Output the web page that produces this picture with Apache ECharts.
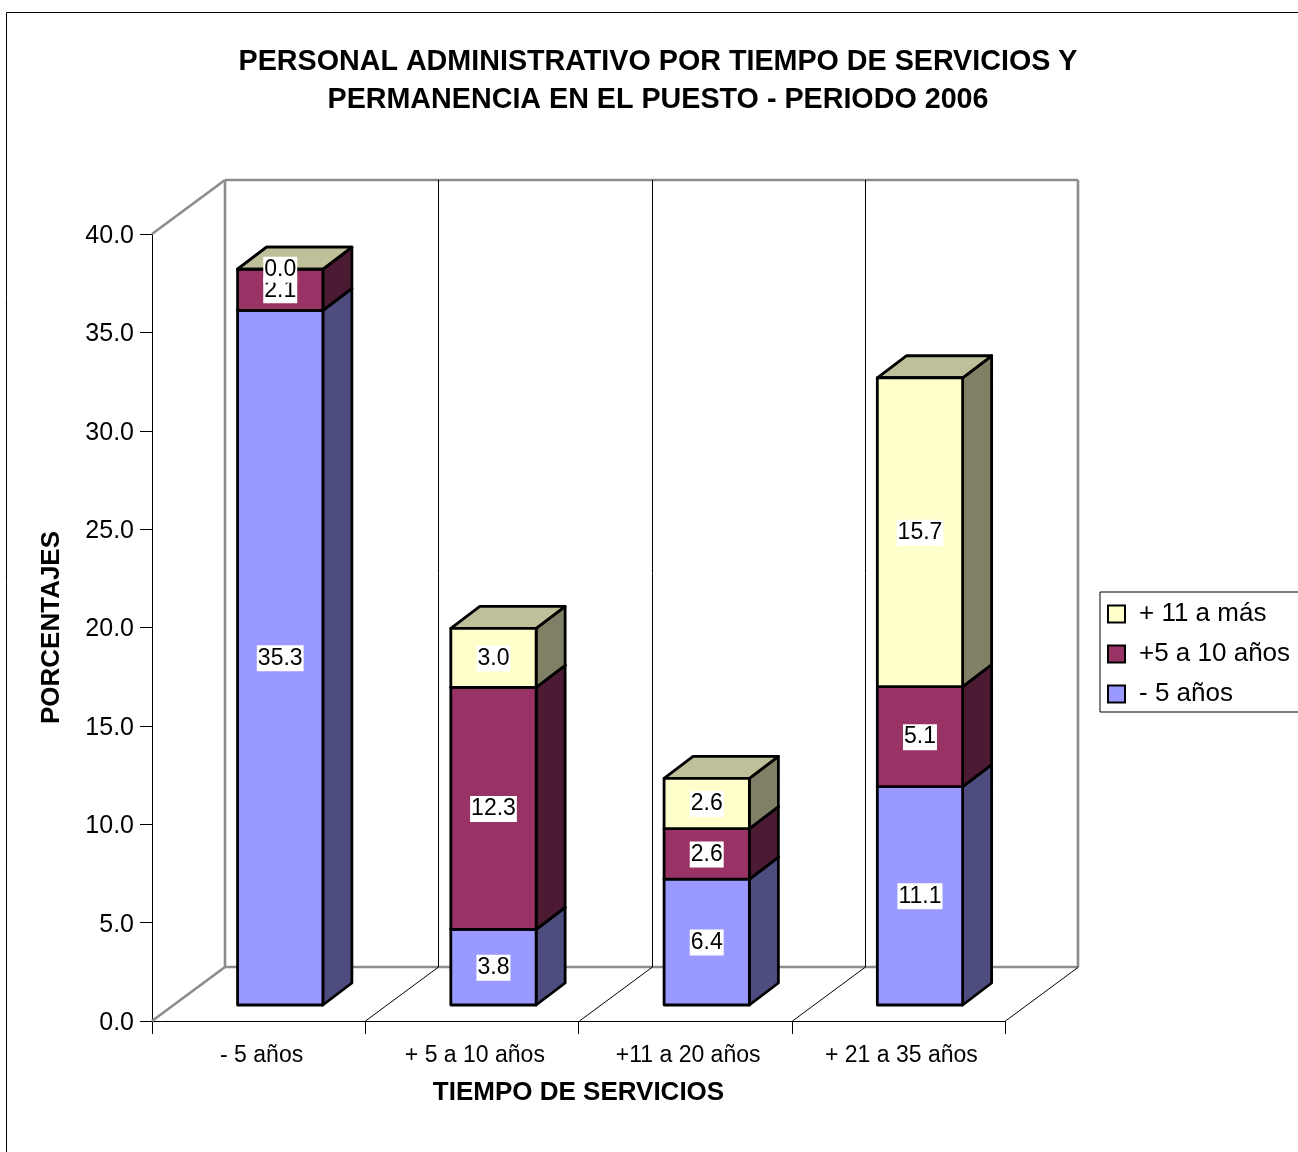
<!DOCTYPE html>
<html>
<head>
<meta charset="utf-8">
<style>html,body{margin:0;padding:0;background:#fff;overflow:hidden}#c{width:1298px;height:1152px}</style>
<script src="https://cdn.jsdelivr.net/npm/echarts@6/dist/echarts.min.js"></script>
</head>
<body>
<div id="c"></div>
<script>
const categories = ['- 5 años', '+ 5 a 10 años', '+11 a 20 años', '+ 21 a 35 años'];
const menos5 = [35.3, 3.84, 6.4, 11.1];
const de5a10 = [2.1, 12.3, 2.56, 5.08];
const mas11 = [0.0, 3.0, 2.56, 15.7];
const seriesNames = ['- 5 años', '+5 a 10 años', '+ 11 a más'];
const yTicks = { min: 0, max: 40, interval: 5 };
const titleText = 'PERSONAL ADMINISTRATIVO POR TIEMPO DE SERVICIOS Y\nPERMANENCIA EN EL PUESTO - PERIODO 2006';
const FONT = '"Liberation Sans", Arial, sans-serif';

const WALL = { dx: 73, dy: -54 };
const DEPTH = { dx: 29, dy: -22 };
const FRONT = { dx: 21.6, dy: -16 };
const BAR_FRAC = 0.4;

const palette = [
  { front: '#9999FF', side: '#4D4D80', top: '#7373BF' },
  { front: '#993366', side: '#4D1A33', top: '#73264D' },
  { front: '#FFFFCC', side: '#808066', top: '#BFBF99' }
];
const stacks = [menos5, de5a10, mas11];

function poly(points, fill) {
  return { type: 'polygon', shape: { points }, style: { fill, stroke: '#000', lineWidth: 2.8, lineJoin: 'round' } };
}

function renderSeg(s) {
  return function (params, api) {
    const i = api.value(0), base = api.value(1), end = api.value(2), v = api.value(3);
    const w = api.size([1, 0])[0] * BAR_FRAC;
    const p0 = api.coord([i, base]), p1 = api.coord([i, end]);
    const x0 = p0[0] + FRONT.dx - w / 2, x1 = x0 + w;
    const yb = p0[1] + FRONT.dy, yt = p1[1] + FRONT.dy;
    const c = palette[s];
    return {
      type: 'group',
      children: [
        poly([[x1, yb], [x1 + DEPTH.dx, yb + DEPTH.dy], [x1 + DEPTH.dx, yt + DEPTH.dy], [x1, yt]], c.side),
        poly([[x0, yt], [x0 + DEPTH.dx, yt + DEPTH.dy], [x1 + DEPTH.dx, yt + DEPTH.dy], [x1, yt]], c.top),
        poly([[x0, yb], [x1, yb], [x1, yt], [x0, yt]], c.front),
        {
          type: 'text', z2: 10,
          style: {
            text: v.toFixed(1), x: (x0 + x1) / 2, y: (yb + yt) / 2 + 0.5,
            align: 'center', verticalAlign: 'middle',
            font: '23px ' + FONT, fill: '#000', backgroundColor: '#fff',
            padding: [2, 1, 1, 1]
          }
        }
      ]
    };
  };
}

function renderWalls(params, api) {
  const r = params.coordSys;
  const L = r.x, R = r.x + r.width, T = r.y, B = r.y + r.height;
  const gray = { stroke: '#8C8C8C', lineWidth: 2.6, fill: 'none' };
  const thin = { stroke: '#000', lineWidth: 1, fill: 'none' };
  const line = (a, b, c, d, st) => ({ type: 'line', shape: { x1: a, y1: b, x2: c, y2: d }, style: st });
  const bx = L + WALL.dx, bR = R + WALL.dx, bT = T + WALL.dy, bB = B + WALL.dy;
  const ch = [
    line(L, T, bx, bT, gray),
    line(L, B, bx, bB, gray),
    line(bx, bT, bx, bB, gray),
    line(bx, bT, bR, bT, gray),
    line(bx, bB, bR, bB, gray),
    line(bR, bT, bR, bB, gray)
  ];
  const step = r.width / categories.length;
  for (let k = 1; k <= categories.length; k++) {
    const x = Math.round(L + step * k) + 0.5;
    ch.push(line(x, B, x + WALL.dx, bB, thin));
    if (k < categories.length) ch.push(line(x + WALL.dx, bB, x + WALL.dx, bT, thin));
  }
  return { type: 'group', children: ch };
}

const bars = stacks.map((vals, s) => ({
  name: seriesNames[s],
  type: 'custom',
  coordinateSystem: 'cartesian2d',
  z: 5 + s,
  itemStyle: { color: palette[s].front },
  encode: { x: 0, y: [1, 2] },
  renderItem: renderSeg(s),
  data: vals.map((v, i) => {
    let base = 0;
    for (let k = 0; k < s; k++) base += stacks[k][i];
    return [i, base, base + v, v];
  })
}));

const chart = echarts.init(document.getElementById('c'), null, { renderer: 'canvas' });
chart.setOption({
  animation: false,
  backgroundColor: '#fff',
  textStyle: { fontFamily: FONT },
  title: {
    text: titleText, left: 653, top: 38, textAlign: 'center',
    textStyle: { fontFamily: FONT, fontSize: 28.7, fontWeight: 'bold', color: '#000', lineHeight: 38 }
  },
  grid: { left: 152, top: 234, width: 853, height: 787, containLabel: false },
  legend: {
    left: 1100, top: 592, orient: 'vertical',
    data: seriesNames.slice().reverse(),
    backgroundColor: '#fff', borderColor: '#000', borderWidth: 1, borderRadius: 0,
    padding: [9, 140, 5, 7],
    itemWidth: 17, itemHeight: 17, itemGap: 14,
    icon: 'rect',
    itemStyle: { borderColor: '#000', borderWidth: 2 },
    selectedMode: false,
    textStyle: { fontFamily: FONT, fontSize: 26, color: '#000', padding: [0, 0, 0, 9] }
  },
  xAxis: {
    type: 'category', data: categories,
    name: 'TIEMPO DE SERVICIOS', nameLocation: 'middle', nameGap: 59,
    nameTextStyle: { fontFamily: FONT, fontSize: 26, fontWeight: 'bold', color: '#000' },
    axisLine: { lineStyle: { color: '#000', width: 1 } },
    axisTick: { show: true, alignWithLabel: false, length: 13, lineStyle: { color: '#000', width: 1 } },
    axisLabel: { fontFamily: FONT, fontSize: 23, color: '#000', margin: 23, padding: [0, 0, 0, 6], interval: 0 },
    splitLine: { show: false }
  },
  yAxis: {
    type: 'value', min: yTicks.min, max: yTicks.max, interval: yTicks.interval,
    name: 'PORCENTAJES', nameLocation: 'middle', nameGap: 87, nameRotate: 90,
    nameTextStyle: { fontFamily: FONT, fontSize: 26, fontWeight: 'bold', color: '#000' },
    axisLine: { show: true, lineStyle: { color: '#000', width: 1 } },
    axisTick: { show: true, length: 12, lineStyle: { color: '#000', width: 1 } },
    axisLabel: { fontFamily: FONT, fontSize: 25, color: '#000', margin: 18, verticalAlign: 'top', lineHeight: 4, formatter: v => v.toFixed(1) },
    splitLine: { show: false }
  },
  graphic: [{
    type: 'rect', z: -1, silent: true,
    shape: { x: 6.5, y: 12.5, width: 1500, height: 1500 },
    style: { fill: 'none', stroke: '#000', lineWidth: 1 }
  }],
  series: [{
    name: 'walls', type: 'custom', coordinateSystem: 'cartesian2d', z: 1, silent: true,
    encode: { x: 0, y: 1 }, data: [[0, 0]], renderItem: renderWalls
  }].concat(bars)
});
</script>
</body>
</html>
